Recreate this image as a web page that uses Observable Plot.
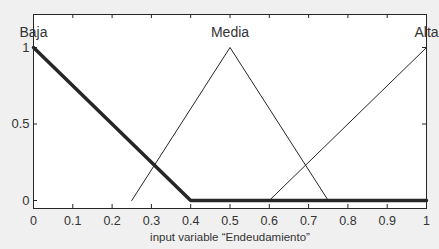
<!DOCTYPE html>
<html>
<head>
<meta charset="utf-8">
<script src="https://cdn.jsdelivr.net/npm/d3@7"></script>
<script src="https://cdn.jsdelivr.net/npm/@observablehq/plot@0.6"></script>
<style>
  html, body { margin: 0; padding: 0; background: #f0f0f0; }
  #chart svg { display: block; }
</style>
</head>
<body>
<div id="chart"></div>
<script>
// Membership functions for input variable "Endeudamiento"
const bajaX = [0, 0.4, 1];
const bajaY = [1, 0, 0];
const mediaX = [0.25, 0.5, 0.75];
const mediaY = [0, 1, 0];
const altaX = [0.6, 1];
const altaY = [0, 1];
const setNames = ["Baja", "Media", "Alta"];
const setPeaks = [0, 0.5, 1];
const xTicks = [0, 0.1, 0.2, 0.3, 0.4, 0.5, 0.6, 0.7, 0.8, 0.9, 1];
const yTicks = [0, 0.5, 1];
const xLabel = "input variable \u201CEndeudamiento\u201D";

const toPts = (xs, ys) => xs.map((x, i) => ({x, y: ys[i]}));
const baja = toPts(bajaX, bajaY);
const media = toPts(mediaX, mediaY);
const alta = toPts(altaX, altaY);
const labels = setNames.map((name, i) => ({name, x: setPeaks[i], y: 1}));

const ink = "#262626";
const yDomain = [-0.0523, 1.2157];
const lo = yDomain[0], hi = yDomain[1];

const chart = Plot.plot({
  width: 439,
  height: 249,
  marginLeft: 33,
  marginRight: 13,
  marginTop: 14,
  marginBottom: 41,
  style: {background: "#f0f0f0", fontFamily: "'Liberation Sans', Arial, sans-serif", color: ink},
  x: {domain: [0, 1], label: null},
  y: {domain: yDomain, label: null},
  marks: [
    Plot.frame({fill: "white", stroke: null}),
    Plot.line(media, {x: "x", y: "y", stroke: ink, strokeWidth: 1}),
    Plot.line(alta, {x: "x", y: "y", stroke: ink, strokeWidth: 1}),
    Plot.line(baja, {x: "x", y: "y", stroke: ink, strokeWidth: 3.5}),
    // inward ticks (MATLAB style)
    Plot.ruleX(xTicks, {x: d => d, y1: () => lo, y2: () => lo, insetTop: -4, stroke: ink}),
    Plot.ruleX(xTicks, {x: d => d, y1: () => hi, y2: () => hi, insetBottom: -4, stroke: ink}),
    Plot.ruleY(yTicks, {y: d => d, x1: () => 0, x2: () => 0, insetRight: -4, stroke: ink}),
    Plot.ruleY(yTicks, {y: d => d, x1: () => 1, x2: () => 1, insetLeft: -4, stroke: ink}),
    Plot.axisX(xTicks, {tickSize: 0, tickPadding: 8, fontSize: 12.5, tickFormat: d => String(d), fill: "#333"}),
    Plot.axisY(yTicks, {tickSize: 0, tickPadding: 4, fontSize: 13, tickFormat: d => String(d), fill: "#333"}),
    Plot.text([xLabel], {frameAnchor: "bottom", dy: 32, text: d => d, fontSize: 11.5, fill: "#333"}),
    Plot.text(labels, {x: "x", y: "y", text: "name", dy: -15, fontSize: 14, fill: "#333"}),
    Plot.frame({stroke: ink, strokeWidth: 1})
  ]
});
document.getElementById("chart").append(chart);
</script>
</body>
</html>
